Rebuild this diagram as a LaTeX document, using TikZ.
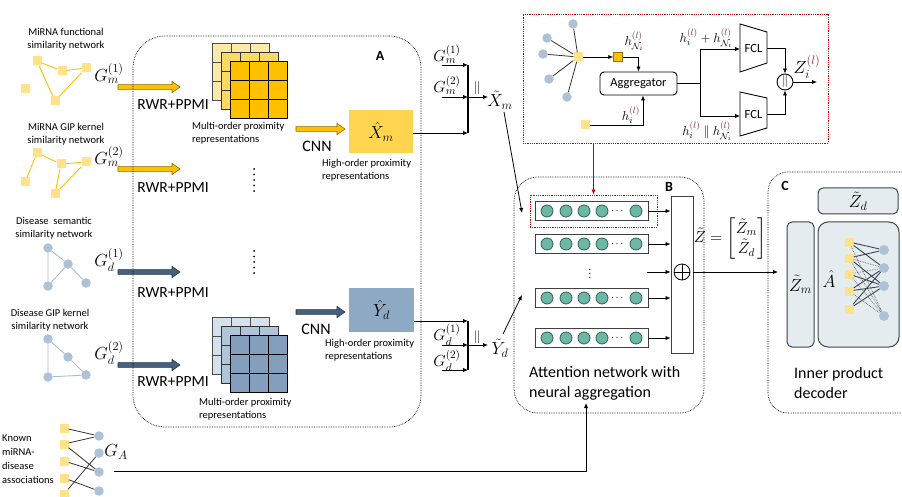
\RequirePackage{fix-cm}
\documentclass[tikz,border=0pt]{standalone}
\usepackage{amsmath}
\usepackage[no-math]{fontspec}
\setmainfont{Carlito}
\usetikzlibrary{arrows.meta,calc}
\definecolor{ygold}{HTML}{FFC000}
\definecolor{ymid}{HTML}{FFD966}
\definecolor{ylight}{HTML}{FFE9A8}
\definecolor{ysq}{HTML}{FFE28A}
\definecolor{ybox}{HTML}{FFD44F}
\definecolor{bdark}{HTML}{44617E}
\definecolor{bfront}{HTML}{839FBD}
\definecolor{bmid}{HTML}{B0C4DA}
\definecolor{blight}{HTML}{D7E1EC}
\definecolor{bnode}{HTML}{ADC2D6}
\definecolor{bline}{HTML}{A9BED3}
\definecolor{bbox}{HTML}{8DA9C4}
\definecolor{tealc}{HTML}{6DB8A2}
\definecolor{tealdk}{HTML}{2F5F66}
\definecolor{cbox}{HTML}{E4ECEF}
\definecolor{cline}{HTML}{3A4650}
\definecolor{redd}{HTML}{C00000}
\definecolor{supc}{HTML}{7B2C2C}
\newcommand\mylsup{{\color{supc}(l)}}
\newcommand\blockarr[4]{\filldraw[draw=#4!55!black,fill=#4,line width=0.6pt] (#1,#3-2.4) -- (#2-8,#3-2.4) -- (#2-8,#3-5.6) -- (#2,#3) -- (#2-8,#3+5.6) -- (#2-8,#3+2.4) -- (#1,#3+2.4) -- cycle;}
\newcommand\gridlayer[4]{\filldraw[fill=#3,draw=#4,line width=0.8pt] (#1,#2) rectangle ++(57,57);
  \draw[#4,line width=0.8pt] (#1+19,#2) -- ++(0,57) (#1+38,#2) -- ++(0,57) (#1,#2+19) -- ++(57,0) (#1,#2+38) -- ++(57,0);}
\begin{document}
\begin{tikzpicture}[x=1pt,y=-1pt,
  font=\fontsize{10.5}{13}\selectfont,
  arr/.style={-{Latex[length=5pt,width=4.2pt]},line width=0.8pt},
  plain/.style={line width=0.8pt},
  ysqr/.style={rectangle,fill=ysq,minimum size=9pt,inner sep=0pt},
  bcirc/.style={circle,fill=bnode,minimum size=9.5pt,inner sep=0pt},
  tcirc/.style={circle,fill=tealc,draw=tealdk,line width=0.8pt,minimum size=12pt,inner sep=0pt},
  yedge/.style={ygold,line width=0.9pt},
  bedge/.style={bline,line width=0.9pt},
  kedge/.style={black!80,line width=0.8pt},
  panel/.style={draw,densely dotted,line width=0.7pt},
  lab/.style={inner sep=0pt,align=center},
  mathl/.style={inner sep=0pt,font=\fontsize{17.5}{20}\selectfont},
  mathm/.style={inner sep=0pt,font=\fontsize{16}{19}\selectfont},
  mathsm/.style={inner sep=0pt,font=\fontsize{13}{15}\selectfont},
  big/.style={inner sep=0pt,font=\fontsize{15.5}{19}\selectfont},
  bigger/.style={inner sep=0pt,align=left,font=\fontsize{16}{20}\selectfont},
  letter/.style={inner sep=0pt,font=\fontsize{14}{16}\selectfont\bfseries},
  rowbox/.style={draw=black!75,fill=white,line width=0.9pt,minimum width=113pt,minimum height=19pt,inner sep=0pt},
  cboxs/.style={draw=cline,fill=cbox,line width=1pt,inner sep=0pt},
]
\useasboundingbox (0,0) rectangle (902,497);

% ---------------- left column: input networks ----------------
\node[lab] (t1) at (66,39.5) {MiRNA functional\\similarity network};
\node[ysqr] (g1a) at (37,61) {};
\node[ysqr] (g1b) at (62,71) {};
\node[ysqr] (g1c) at (86,68) {};
\node[ysqr] (g1d) at (25,89) {};
\node[ysqr] (g1e) at (55,101) {};
\draw[yedge] (g1a)--(g1b) (g1b)--(g1c) (g1a)--(g1e) (g1e)--(g1c);
\node[mathl] (gm1) at (109,73) {$G_m^{(1)}$};

\node[lab] (t2) at (66,134) {MiRNA GIP kernel\\similarity network};
\node[ysqr] (g2a) at (37,153) {};
\node[ysqr] (g2b) at (61,164) {};
\node[ysqr] (g2c) at (86,162) {};
\node[ysqr] (g2d) at (25,182) {};
\node[ysqr] (g2e) at (55,194) {};
\draw[yedge] (g2a)--(g2b) (g2b)--(g2c) (g2b)--(g2e) (g2e)--(g2c) (g2a)--(g2d);
\node[mathl] (gm2) at (109,156) {$G_m^{(2)}$};

\node[lab] (t3) at (54,228) {Disease\ \ semantic\\similarity network};
\node[bcirc] (g3a) at (48,248) {};
\node[bcirc] (g3b) at (68,264) {};
\node[bcirc] (g3c) at (48,286) {};
\node[bcirc] (g3d) at (86,283) {};
\draw[bedge] (g3a)--(g3c) (g3a)--(g3b) (g3b)--(g3c) (g3b)--(g3d);
\node[mathl] (gd1) at (109,260) {$G_d^{(1)}$};

\node[lab] (t4) at (50,320) {Disease GIP kernel\\similarity network};
\node[bcirc] (g4a) at (48,339) {};
\node[bcirc] (g4b) at (68,357) {};
\node[bcirc] (g4c) at (48,377) {};
\node[bcirc] (g4d) at (86,375) {};
\draw[bedge] (g4a)--(g4b) (g4b)--(g4d) (g4a)--(g4c) (g4c)--(g4d);
\node[mathl] (gd2) at (109,353) {$G_d^{(2)}$};

% block arrows into panel A
\blockarr{118}{180}{87}{ygold}
\blockarr{118}{180}{169}{ygold}
\blockarr{118}{180}{272}{bdark}
\blockarr{118}{180}{365}{bdark}

% ---------------- panel A ----------------
\node[panel,rounded corners=32pt,minimum width=288pt,minimum height=391pt] (panA) at (277,231.5) {};
\node[letter] (lA) at (380,56) {A};
\node[big] (rw1) at (173,105) {RWR+PPMI};
\node[big] (rw2) at (173,188) {RWR+PPMI};
\node[big] (rw3) at (173,293) {RWR+PPMI};
\node[big] (rw4) at (173,382) {RWR+PPMI};

\gridlayer{212}{43}{ylight}{black!70}
\gridlayer{221}{52}{ymid}{black!80}
\gridlayer{230}{61}{ygold}{black}
\gridlayer{212}{317}{blight}{black!70}
\gridlayer{221}{326}{bmid}{black!80}
\gridlayer{230}{335}{bfront}{black}

\node[inner sep=0pt,align=left,anchor=west] (mo1) at (192,133.5) {Multi-order proximity\\representations};
\node[inner sep=0pt,align=left,anchor=west] (mo2) at (199,409) {Multi-order proximity\\representations};

\blockarr{296}{345}{129}{ygold}
\blockarr{296}{345}{312}{bdark}
\node[inner sep=0pt,font=\fontsize{16}{19}\selectfont] (cnn1) at (317,146) {CNN};
\node[inner sep=0pt,font=\fontsize{16}{19}\selectfont] (cnn2) at (316,329) {CNN};

\node[fill=ybox,minimum width=64pt,minimum height=43pt,inner sep=0pt] (xm) at (381,131.5) {};
\node[mathl] (xml) at (xm) {$\hat{X}_m$};
\node[fill=bbox,minimum width=65pt,minimum height=44pt,inner sep=0pt] (yd) at (381.5,310) {};
\node[mathl] (ydl) at (yd) {$\hat{Y}_d$};
\node[inner sep=0pt,align=left,anchor=west] (ho1) at (322,170.5) {High-order proximity\\representations};
\node[inner sep=0pt,align=left,anchor=west] (ho2) at (325,350.5) {High-order proximity\\representations};

\foreach \dy in {0,5.5,...,22} {\fill (254,169+\dy) circle[radius=1pt]; \fill (254,251+\dy) circle[radius=1pt];}

% ---------------- concatenation (top) ----------------
\coordinate (vt1) at (468,65);
\coordinate (vt2) at (468,97);
\coordinate (vt3) at (468,133);
\node[mathm] (cgm1) at (447,54) {$G_m^{(1)}$};
\node[mathm] (cgm2) at (447,85) {$G_m^{(2)}$};
\draw[arr] (442,65) -- (vt1);
\draw[arr] (442,97) -- (vt2);
\draw[arr] (xm.east |- vt3) -- (vt3);
\draw[line width=1.3pt] (vt1) -- (vt3);
\node[mathl] (xt) at (500,100) {$\tilde{X}_m$};
\draw[arr] (vt2) -- (488,97);
\node[inner sep=0pt,font=\fontsize{13}{15}\selectfont] (cc1) at (477,88) {$\|$};

% ---------------- concatenation (bottom) ----------------
\coordinate (vb1) at (468,321);
\coordinate (vb2) at (468,345);
\coordinate (vb3) at (468,370);
\node[mathm] (cgd1) at (447,335) {$G_d^{(1)}$};
\node[mathm] (cgd2) at (447,361) {$G_d^{(2)}$};
\draw[arr] (yd.east |- vb1) -- (vb1);
\draw[arr] (442,345) -- (vb2);
\draw[arr] (442,370) -- (vb3);
\draw[line width=1.3pt] (vb1) -- (vb3);
\node[mathl] (ytl) at (500,348) {$\tilde{Y}_d$};
\draw[arr] (vb2) -- (488,345);
\node[inner sep=0pt,font=\fontsize{13}{15}\selectfont] (cc2) at (477,337) {$\|$};

% ---------------- panel B ----------------
\node[panel,rounded corners=24pt,minimum width=190pt,minimum height=236pt] (panB) at (609,295) {};
\node[letter] (lB) at (669,187) {B};
\coordinate (bxin) at (522,213);
\coordinate (byin) at (522,295);
\draw[arr] (504,112) -- (bxin);
\draw[arr] (503,334) -- (byin);

\node[draw=black!75,line width=0.9pt,minimum width=22pt,minimum height=157pt,inner sep=0pt] (bar) at (682,274.5) {};
\node[circle,draw,line width=0.8pt,minimum size=16pt,inner sep=0pt] (oplus) at (682,272) {};
\draw[line width=0.8pt] (oplus.north) -- (oplus.south) (oplus.west) -- (oplus.east);

\foreach \r/\ry in {1/211,2/244,3/298,4/338} {
  \node[rowbox] (row\r) at (591.5,\ry) {};
  \foreach \cx in {547,566,584,602,636} \node[tcirc] (row\r c\cx) at (\cx,\ry) {};
  \node[inner sep=0pt] (row\r d) at (618,\ry) {$\cdots$};
  \draw[arr] (row\r.east) -- (row\r.east -| bar.west);
}
\node[inner sep=0pt] (vd) at (590,271) {$\vdots$};
\coordinate (dotsA) at (647,272);
\draw[arr] (dotsA) -- (dotsA -| bar.west);
\node[draw=redd,densely dotted,line width=0.8pt,minimum width=127pt,minimum height=32pt,inner sep=0pt] (rsel) at (593.5,211) {};

\node[inner sep=0pt,font=\fontsize{16}{19}\selectfont] (zeq) at (730,239) {$\tilde{Z}=\begin{bmatrix}\tilde{Z}_m\\ \tilde{Z}_d\end{bmatrix}$};
\node[bigger,anchor=west] (attn) at (529,383) {Attention network with\\neural aggregation};

% G_A input line
\node[mathl] (ga) at (116,452) {$G_A$};
\coordinate (gaS) at (114,471);
\coordinate (bin) at (586,403);
\draw[arr] (gaS) -| (bin);

% ---------------- panel C ----------------
\draw[panel,rounded corners=20pt] (905,172) -- (768,172) -- (768,413) -- (905,413);
\node[letter] (lC) at (785,186) {C};
\coordinate (cin) at (778,272);
\draw[arr] (bar.east |- oplus) -- (cin);
\node[cboxs,rounded corners=5pt,minimum width=80pt,minimum height=26pt] (zd) at (858,201) {};
\node[mathl] (zdl) at (zd) {$\tilde{Z}_d$};
\node[cboxs,rounded corners=5pt,minimum width=27pt,minimum height=125pt] (zm) at (800.5,284.5) {};
\node[mathl] (zml) at (zm) {$\tilde{Z}_m$};
\node[cboxs,rounded corners=10pt,minimum width=81pt,minimum height=125pt] (ahat) at (858.5,284.5) {};
\node[mathl] (ahl) at (829,279) {$\hat{A}$};
\foreach \i/\py in {1/242,2/258,3/274,4/291,5/309} \node[ysqr] (p\i) at (849,\py) {};
\foreach \i/\qy in {1/250,2/268,3/286,4/316} \node[bcirc,minimum size=10pt] (q\i) at (884,\qy) {};
\draw[cline,line width=0.9pt] (p1)--(q1) (p1)--(q2) (p2)--(q1) (p2)--(q3) (p3)--(q3) (p4)--(q2) (p4)--(q3) (p5)--(q2) (p5)--(q3);
\draw[black!60,densely dotted,line width=0.7pt] (p1)--(q4) (p2)--(q2) (p3)--(q2) (p3)--(q4) (p4)--(q4) (p2)--(q4);
\node[bigger,anchor=west] (ipd) at (794,383) {Inner product\\decoder};

% ---------------- top-right: aggregation detail ----------------
\node[draw=redd,densely dotted,line width=0.8pt,minimum width=305pt,minimum height=129pt,inner sep=0pt] (rbox) at (675.5,78.5) {};
\draw[redd,-{Latex[length=5pt,width=4.2pt]},line width=0.8pt] (rbox.south -| rsel.north) -- (rsel.north);

\node[ysqr] (sc) at (578,57) {};
\node[bcirc] (s1) at (573,24) {};
\node[bcirc] (s2) at (547,38) {};
\node[bcirc] (s3) at (543,54) {};
\node[bcirc] (s4) at (549,79) {};
\node[bcirc] (s5) at (567,97) {};
\draw[kedge] (sc)--(s1) (sc)--(s2) (sc)--(s3) (sc)--(s4) (sc)--(s5);
\node[rectangle,fill=ygold,draw=ygold!60!black,line width=0.4pt,minimum size=9pt,inner sep=0pt] (osq) at (618,57) {};
\draw[arr] (sc) -- (osq);
\node[mathsm] (hn) at (634,41) {$h_{\mathcal{N}_i}^{\mylsup}$};
\node[draw,rounded corners=4pt,line width=0.9pt,minimum width=77pt,minimum height=23pt,inner sep=0pt,font=\fontsize{12.5}{15}\selectfont] (agg) at (638.5,83.5) {Aggregator};
\draw[arr] (osq.east) -| (agg.north);
\node[ysqr] (bsq) at (585,125) {};
\coordinate (aggbot) at ($(agg.south)+(4.5,0)$);
\draw[arr] (bsq.east) -| (aggbot);
\node[mathsm] (hi) at (631,115) {$h_i^{\mylsup}$};

\coordinate (split) at (700,83.5);
\draw[plain] (agg.east) -- (split);
\coordinate (f1w) at (740,49);
\coordinate (f2w) at (740,116);
\draw[arr] (split) |- (f1w);
\draw[arr] (split) |- (f2w);
\draw[line width=0.9pt] (740,24) -- (767,32) -- (767,63) -- (740,72) -- cycle;
\draw[line width=0.9pt] (740,92) -- (767,98) -- (767,128) -- (740,136) -- cycle;
\node[inner sep=0pt,font=\fontsize{12.5}{15}\selectfont] (fcl1) at (753.5,48) {FCL};
\node[inner sep=0pt,font=\fontsize{12.5}{15}\selectfont] (fcl2) at (753.5,114) {FCL};
\node[mathsm] (hsum) at (706,38) {$h_i^{\mylsup}+h_{\mathcal{N}_i}^{\mylsup}$};
\node[mathsm] (hcat) at (707,131) {$h_i^{\mylsup}\ \|\ h_{\mathcal{N}_i}^{\mylsup}$};
\node[circle,draw,line width=0.9pt,minimum size=16pt,inner sep=0pt] (ccat) at (785,82) {};
\node[inner sep=0pt,font=\fontsize{12}{14}\selectfont] (ccatl) at (785,82) {$\|$};
\coordinate (f1e) at (767,48);
\coordinate (f2e) at (767,114);
\draw[arr] (f1e) -| (ccat.north);
\draw[arr] (f2e) -| (ccat.south);
\coordinate (zout) at (817,82);
\draw[arr] (ccat.east) -- (zout);
\node[mathl] (zil) at (807,67) {$Z_i^{\mylsup}$};

% known associations
\node[inner sep=0pt,align=left,anchor=west,font=\fontsize{10.5}{14}\selectfont] (kn) at (2,459) {Known\\miRNA-\\disease\\associations};
\foreach \i/\ky in {1/428,2/444,3/461,4/478,5/494} \node[ysqr] (k\i) at (64,\ky) {};
\foreach \i/\cy in {1/436,2/453,3/472,4/491} \node[bcirc] (c\i) at (99,\cy) {};
\draw[kedge] (k1)--(c1) (k2)--(c1) (k2)--(c3) (k3)--(c3) (k4)--(c4) (k5)--(c2);
\end{tikzpicture}
\end{document}
